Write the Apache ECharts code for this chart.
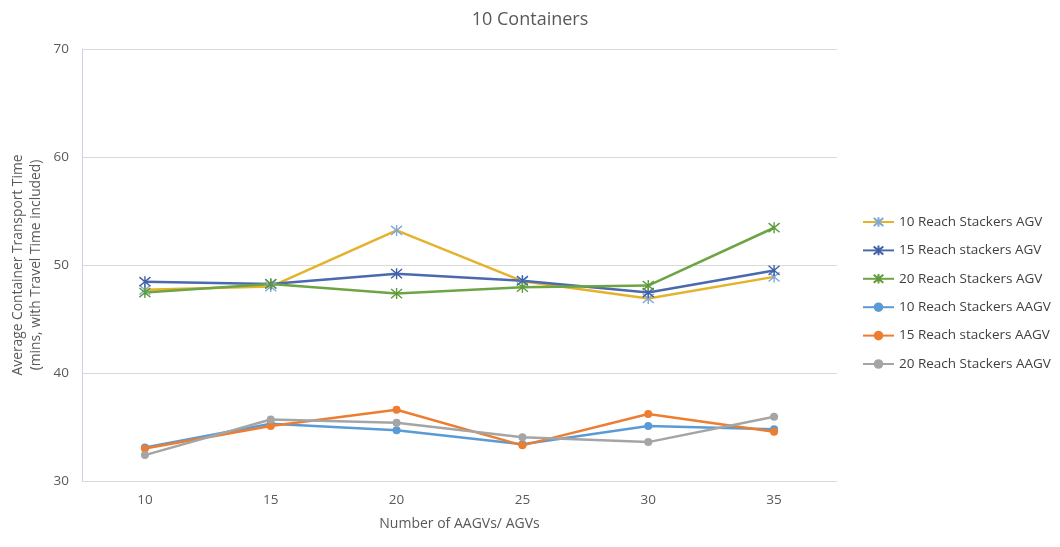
<!DOCTYPE html>
<html>
<head>
<meta charset="utf-8">
<script src="https://cdn.jsdelivr.net/npm/echarts@6/dist/echarts.min.js"></script>
<style>
  html, body { margin: 0; padding: 0; background: #ffffff; }
  #chart { width: 1060px; height: 547px; }
</style>
</head>
<body>
<div id="chart"></div>
<script>
// Number of vehicles on the x axis
const categories = ['10', '15', '20', '25', '30', '35'];

// Average container transport time (mins, travel time included)
const rs10Agv  = [47.7, 48.0, 53.2, 48.5, 46.9, 48.9];
const rs15Agv  = [48.45, 48.25, 49.2, 48.55, 47.45, 49.5];
const rs20Agv  = [47.45, 48.25, 47.35, 47.95, 48.1, 53.45];
const rs10Aagv = [33.1, 35.3, 34.7, 33.4, 35.1, 34.8];
const rs15Aagv = [33.0, 35.1, 36.6, 33.3, 36.2, 34.55];
const rs20Aagv = [32.4, 35.7, 35.4, 34.05, 33.6, 35.95];

const seriesNames = [
  '10 Reach Stackers AGV',
  '15 Reach stackers AGV',
  '20 Reach Stackers AGV',
  '10 Reach Stackers AAGV',
  '15 Reach stackers AAGV',
  '20 Reach Stackers AAGV'
];

// Asterisk marker: vertical stroke crossed by an X
const asterisk = 'path://M0,-6L0,6M-5,-5L5,5M-5,5L5,-5';

function starSeries(name, data, lineColor, markColor) {
  return {
    name: name,
    type: 'line',
    data: data,
    symbol: asterisk,
    symbolSize: 11,
    showAllSymbol: true,
    lineStyle: { color: lineColor, width: 2.5 },
    itemStyle: { color: 'rgba(0,0,0,0)', borderColor: markColor, borderWidth: 1.4 },
    emphasis: { disabled: true }
  };
}

function dotSeries(name, data, color) {
  return {
    name: name,
    type: 'line',
    data: data,
    symbol: 'circle',
    symbolSize: 8,
    showAllSymbol: true,
    lineStyle: { color: color, width: 2.5 },
    itemStyle: { color: color, borderWidth: 0 },
    emphasis: { disabled: true }
  };
}

const textColor = '#595959';
const fontFamily = '"Open Sans", "Noto Sans", sans-serif';

const chart = echarts.init(document.getElementById('chart'), null, { renderer: 'canvas' });

chart.setOption({
  animation: false,
  backgroundColor: '#ffffff',
  textStyle: { fontFamily: fontFamily, color: textColor },
  title: {
    text: '10 Containers',
    left: 'center',
    top: 6,
    textStyle: { fontFamily: fontFamily, fontSize: 18, fontWeight: 'normal', color: textColor }
  },
  legend: {
    orient: 'vertical',
    left: 857,
    top: 210,
    itemWidth: 31,
    itemHeight: 12,
    itemGap: 14.4,
    textStyle: { fontFamily: fontFamily, fontSize: 13.5, color: '#404040' },
    data: seriesNames
  },
  grid: { left: 82, right: 223, top: 49, bottom: 66, outerBoundsMode: 'none', containLabel: false },
  xAxis: {
    type: 'category',
    data: categories,
    boundaryGap: true,
    name: 'Number of AAGVs/ AGVs',
    nameLocation: 'middle',
    nameGap: 36,
    nameMoveOverlap: false,
    nameTextStyle: { fontFamily: fontFamily, fontSize: 14, color: textColor },
    axisLine: { show: false },
    axisTick: { show: false },
    axisLabel: { margin: 12, fontSize: 13.5, color: textColor, fontFamily: fontFamily }
  },
  yAxis: {
    type: 'value',
    min: 30,
    max: 70,
    interval: 10,
    name: 'Average Container Transport Time\n(mins, with Travel Time included)',
    nameLocation: 'middle',
    nameGap: 37,
    nameMoveOverlap: false,
    nameTextStyle: { fontFamily: fontFamily, fontSize: 13.8, color: textColor, lineHeight: 18 },
    axisLine: { show: true, lineStyle: { color: '#C9D5E6', width: 1 } },
    axisTick: { show: false },
    axisLabel: { margin: 13, fontSize: 13.5, color: textColor, fontFamily: fontFamily },
    splitLine: { lineStyle: { color: '#D9D9D9', width: 1 } }
  },
  series: [
    starSeries(seriesNames[0], rs10Agv, '#E5B22B', '#7DA9DB'),
    starSeries(seriesNames[1], rs15Agv, '#4A69AE', '#3F5FA6'),
    starSeries(seriesNames[2], rs20Agv, '#6DA544', '#5F9A3A'),
    dotSeries(seriesNames[3], rs10Aagv, '#5B9BD5'),
    dotSeries(seriesNames[4], rs15Aagv, '#ED7D31'),
    dotSeries(seriesNames[5], rs20Aagv, '#A5A5A5')
  ]
});
</script>
</body>
</html>
